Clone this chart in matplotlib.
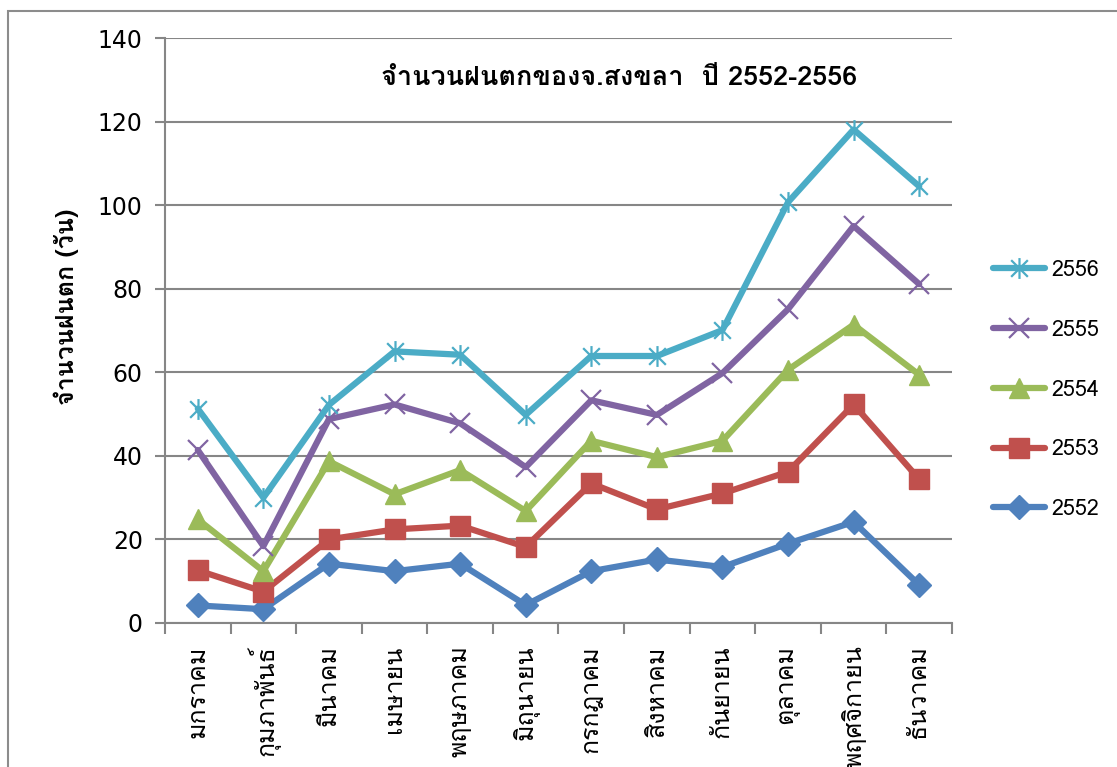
import matplotlib
matplotlib.use("Agg")
import matplotlib.pyplot as plt
from matplotlib import font_manager, ft2font
from matplotlib.patches import Rectangle
from matplotlib.path import Path

# --- data (values as plotted) ---
months = ["มกราคม", "กุมภาพันธ์", "มีนาคม", "เมษายน", "พฤษภาคม", "มิถุนายน",
          "กรกฎาคม", "สิงหาคม", "กันยายน", "ตุลาคม", "พฤศจิกายน", "ธันวาคม"]
y2552 = [4.2, 3.3, 14.2, 12.4, 14.2, 4.3, 12.4, 15.2, 13.4, 19.0, 24.2, 9.1]
y2553 = [12.6, 7.5, 20.0, 22.4, 23.3, 18.2, 33.4, 27.2, 31.0, 36.2, 52.3, 34.4]
y2554 = [24.8, 12.4, 38.7, 30.8, 36.6, 26.8, 43.6, 39.7, 43.6, 60.6, 71.4, 59.4]
y2555 = [41.4, 18.4, 48.8, 52.3, 47.8, 37.3, 53.3, 49.8, 59.8, 75.1, 95.0, 81.1]
y2556 = [51.3, 30.0, 52.2, 65.0, 64.2, 49.8, 63.9, 63.9, 70.1, 100.7, 118.1, 104.5]

title = "จำนวนฝนตกของจ.สงขลา  ปี 2552-2556"
ylabel = "จำนวนฝนตก (วัน)"


def thai_family():
    """Find an installed font that has Thai glyphs."""
    for f in font_manager.fontManager.ttflist:
        try:
            cmap = ft2font.FT2Font(f.fname).get_charmap()
        except Exception:
            continue
        if 0x0E08 in cmap and 0x0E33 in cmap:
            return f.name
    return "DejaVu Sans"


thai = thai_family()
plt.rcParams["font.family"] = [thai, "DejaVu Sans"]

# asterisk marker for 2556: an X with a vertical bar
star = Path(
    [(-1, -1), (1, 1), (-1, 1), (1, -1), (0, -1.25), (0, 1.25)],
    [Path.MOVETO, Path.LINETO, Path.MOVETO, Path.LINETO, Path.MOVETO, Path.LINETO],
)

fig = plt.figure(figsize=(11.17, 7.67), dpi=100)
fig.patch.set_facecolor("white")
# outer chart border (runs off the right and bottom edges)
fig.patches.append(Rectangle((8 / 1117, -0.1), 1.2, 1.1 - 11 / 767,
                             transform=fig.transFigure, fill=False,
                             edgecolor="#8c8c8c", linewidth=1.5))

ax = fig.add_axes([165 / 1117, 1 - 623 / 767, (952 - 165) / 1117, (623 - 38) / 767])
xs = list(range(len(months)))
grey = "#868686"

series = [
    ("2552", y2552, "#4F81BD", dict(marker="D", markersize=12)),
    ("2553", y2553, "#C0504D", dict(marker="s", markersize=14)),
    ("2554", y2554, "#9BBB59", dict(marker="^", markersize=15)),
    ("2555", y2555, "#8064A2", dict(marker="x", markersize=14, markeredgewidth=1.6)),
    ("2556", y2556, "#4BACC6", dict(marker=star, markersize=15, markeredgewidth=1.6,
                                    markerfacecolor="none")),
]
handles = []
for name, ys, col, mk in series:
    face = mk.pop("markerfacecolor", col)
    (h,) = ax.plot(xs, ys, color=col, linewidth=4.5, markeredgecolor=col,
                   markerfacecolor=face, label=name,
                   solid_capstyle="round", zorder=3, **mk)
    handles.append(h)

ax.set_xlim(-0.5, len(months) - 0.5)
ax.set_ylim(0, 140)
ax.set_yticks(range(0, 141, 20))
ax.yaxis.grid(True, color=grey, linewidth=1.5, zorder=0)
ax.set_axisbelow(True)

# category ticks sit between months, labels at the month centres
ax.set_xticks([i - 0.5 for i in range(len(months) + 1)])
ax.set_xticklabels([])
ax.set_xticks(xs, minor=True)
ax.set_xticklabels(months, minor=True, rotation=90, fontsize=18, va="top", ha="center")
ax.tick_params(axis="x", which="minor", length=0, pad=16)
ax.tick_params(axis="x", which="major", length=8, width=1.5, color=grey)
ax.tick_params(axis="y", length=7, width=1.5, color=grey, labelsize=17, pad=9)
for lbl in ax.get_yticklabels():
    lbl.set_family("DejaVu Sans")

for side in ("top", "right"):
    ax.spines[side].set_visible(False)
for side in ("left", "bottom"):
    ax.spines[side].set_color(grey)
    ax.spines[side].set_linewidth(1.5)

ax.set_ylabel(ylabel, fontsize=18, fontweight="bold")
ax.yaxis.set_label_coords((79 - 165) / 787, (623 - 307) / 585)
fig.text(619 / 1117, 1 - 78 / 767, title, fontsize=19.5, fontweight="bold",
         ha="center", va="center")

leg = fig.legend(handles[::-1], [h.get_label() for h in handles[::-1]],
                 loc="center left", bbox_to_anchor=(993 / 1117, 1 - 390 / 767),
                 frameon=False, fontsize=15.5, labelspacing=1.8, handlelength=2.4,
                 handletextpad=0.3, borderpad=0, borderaxespad=0)

fig.savefig("out.png", dpi=100)
